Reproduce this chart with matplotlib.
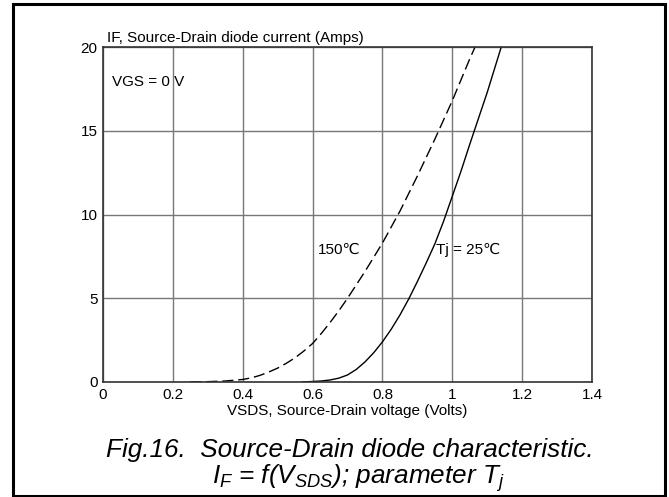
import matplotlib
matplotlib.use("Agg")
import matplotlib.pyplot as plt
from matplotlib.patches import Rectangle

plt.rcParams['font.family'] = ['Liberation Sans', 'DejaVu Sans', 'Noto Sans CJK SC']
plt.rcParams['mathtext.fontset'] = 'custom'
plt.rcParams['mathtext.it'] = 'Liberation Sans:italic'
plt.rcParams['mathtext.rm'] = 'Liberation Sans:italic'

# Tj = 25 C (solid)
v_25 = [0.57, 0.6, 0.625, 0.65, 0.675, 0.7, 0.725, 0.75, 0.775, 0.8, 0.825, 0.85,
        0.875, 0.9, 0.925, 0.95, 0.975, 1.0, 1.025, 1.05, 1.075, 1.1, 1.12, 1.14]
i_25 = [0.0, 0.03, 0.06, 0.12, 0.23, 0.42, 0.75, 1.2, 1.75, 2.4, 3.15, 4.0,
        4.95, 6.0, 7.1, 8.25, 9.6, 11.1, 12.6, 14.2, 15.75, 17.3, 18.65, 20.0]

# Tj = 150 C (dashed)
v_150 = [0.25, 0.3, 0.35, 0.4, 0.425, 0.45, 0.475, 0.5, 0.525, 0.55, 0.575, 0.6,
         0.625, 0.65, 0.675, 0.7, 0.75, 0.8, 0.85, 0.9, 0.95, 1.0, 1.05, 1.065]
i_150 = [0.0, 0.02, 0.06, 0.15, 0.25, 0.4, 0.6, 0.83, 1.12, 1.45, 1.85, 2.3,
         2.9, 3.55, 4.25, 5.0, 6.6, 8.3, 10.2, 12.3, 14.5, 16.8, 19.3, 20.0]

xticks = [0, 0.2, 0.4, 0.6, 0.8, 1.0, 1.2, 1.4]
xlabels = ['0', '0.2', '0.4', '0.6', '0.8', '1', '1.2', '1.4']
yticks = [0, 5, 10, 15, 20]

fig = plt.figure(figsize=(6.69, 4.97), dpi=100)
ax = fig.add_axes([0.154, 0.2314, 0.731, 0.674])

ax.plot(v_25, i_25, color='black', lw=1.0)
ax.plot(v_150, i_150, color='black', lw=1.0, linestyle=(0, (8, 3.5)))

ax.set_xlim(0, 1.4)
ax.set_ylim(0, 20)
ax.set_xticks(xticks)
ax.set_xticklabels(xlabels)
ax.set_yticks(yticks)
ax.tick_params(length=0, labelsize=11, pad=4)
ax.grid(True, color='#777777', lw=1)
for s in ax.spines.values():
    s.set_color('#333333')
    s.set_linewidth(1.2)

ax.set_xlabel('VSDS, Source-Drain voltage (Volts)', fontsize=11, labelpad=2)
ax.text(0.008, 1.005, 'IF, Source-Drain diode current (Amps)', transform=ax.transAxes,
        fontsize=11, ha='left', va='bottom')
ax.text(0.025, 17.9, 'VGS = 0 V', fontsize=11, ha='left', va='center')
ax.text(0.616, 7.9, '150℃', fontsize=11, ha='left', va='center')
ax.text(0.954, 7.9, 'Tj = 25℃', fontsize=11, ha='left', va='center')

fig.text(0.523, 0.0946, 'Fig.16.  Source-Drain diode characteristic.', fontsize=18.8,
         style='italic', ha='center', va='center')
fig.text(0.536, 0.038, r'$I_F$ = f($V_{SDS}$); parameter $T_j$', fontsize=18.8,
         style='italic', ha='center', va='center')

fig.patches.append(Rectangle((13 / 669, 0.002), 652 / 669, 1 - 5 / 497, transform=fig.transFigure,
                             fill=False, edgecolor='black', lw=2.2))

fig.savefig('out.png', dpi=100)
